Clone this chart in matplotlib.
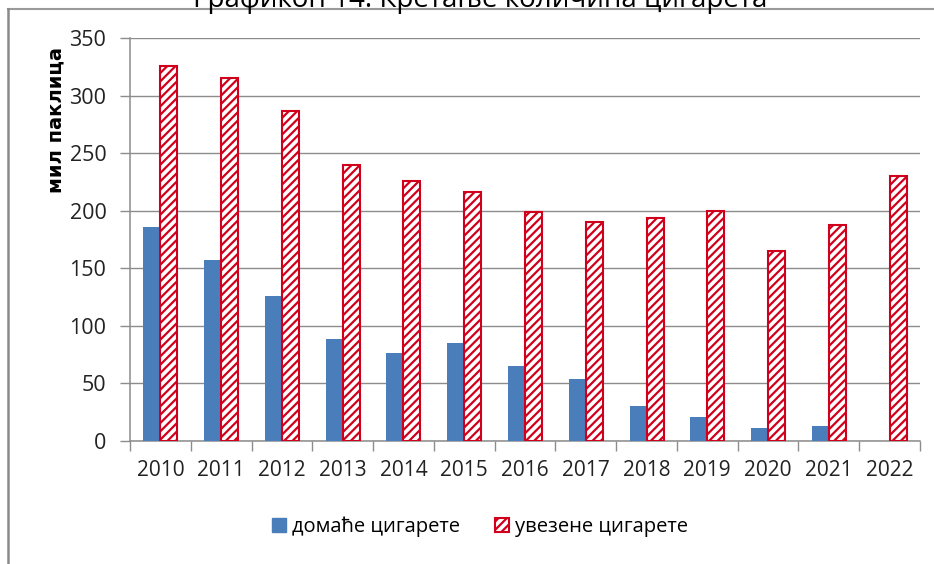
import numpy as np
import matplotlib
matplotlib.use("Agg")
from matplotlib import pyplot as plt
from matplotlib.lines import Line2D
from matplotlib.patches import Patch

years = ["2010", "2011", "2012", "2013", "2014", "2015", "2016",
         "2017", "2018", "2019", "2020", "2021", "2022"]
domestic = [186, 157, 126, 89, 76, 85, 65, 54, 30, 21, 11, 13, 0]
imported = [326, 315, 287, 240, 226, 216, 199, 190, 194, 200, 165, 188, 230]
yticks = [0, 50, 100, 150, 200, 250, 300, 350]

BLUE = "#4a7ebb"
RED = "#d0001c"
GRID = "#8c8c8c"

plt.rcParams["font.family"] = ["Open Sans", "DejaVu Sans"]
plt.rcParams["hatch.linewidth"] = 1.6
plt.rcParams["hatch.color"] = RED

W, H = 934, 564
fig = plt.figure(figsize=(W / 100, H / 100), dpi=100)
ax = fig.add_axes([130 / W, 1 - 441 / H, (920 - 130) / W, (441 - 38) / H])

x = np.arange(len(years))
bw = 0.28
ax.bar(x - bw / 2, domestic, width=bw, color=BLUE, zorder=3)
ax.bar(x + bw / 2, imported, width=bw, color="white", edgecolor=RED,
       hatch="////", linewidth=1.5, zorder=3)

ax.set_xlim(-0.5, len(years) - 0.5)
ax.set_ylim(0, 350)
ax.set_yticks(yticks)
ax.set_yticklabels([str(v) for v in yticks], fontsize=15.5, color="#222222")
ax.yaxis.grid(True, color=GRID, linewidth=1.0, zorder=0)
ax.tick_params(axis="y", length=7, width=1, color=GRID, pad=10)

ax.set_xticks(x)
ax.set_xticklabels(years, fontsize=15, color="#222222")
ax.set_xticks(np.arange(len(years) + 1) - 0.5, minor=True)
ax.tick_params(axis="x", which="major", length=0, pad=14)
ax.tick_params(axis="x", which="minor", length=7, width=1, color=GRID)

for side in ["top", "right"]:
    ax.spines[side].set_visible(False)
for side in ["left", "bottom"]:
    ax.spines[side].set_color(GRID)
    ax.spines[side].set_linewidth(1.1)

fig.text(56 / W, 1 - 120 / H, "мил паклица", rotation=90, ha="center",
         va="center", fontsize=14, fontweight="bold",
         family=["DejaVu Sans"])

# title is cut off at the top edge, as in the source picture
fig.text(480 / W, 1 - 7 / H, "Графикон 14. Кретање количина цигарета",
         ha="center", va="baseline", fontsize=20)

# frame lines
fig.add_artist(Line2D([8 / W, 1], [1 - 9 / H, 1 - 9 / H], color="#9a9a9a",
                      linewidth=1.5, transform=fig.transFigure))
fig.add_artist(Line2D([8 / W, 8 / W], [0, 1 - 9 / H], color="#8a8a8a",
                      linewidth=1.8, transform=fig.transFigure))

handles = [Patch(facecolor=BLUE, edgecolor=BLUE, label="домаће цигарете"),
           Patch(facecolor="white", edgecolor=RED, hatch="////",
                 linewidth=1.5, label="увезене цигарете")]
fig.legend(handles=handles, loc="center", bbox_to_anchor=(480 / W, 1 - 527 / H),
           ncol=2, frameon=False, fontsize=14.5, handlelength=0.7,
           handleheight=0.7, handletextpad=0.3, columnspacing=1.7)

fig.savefig("out.png", dpi=100)
